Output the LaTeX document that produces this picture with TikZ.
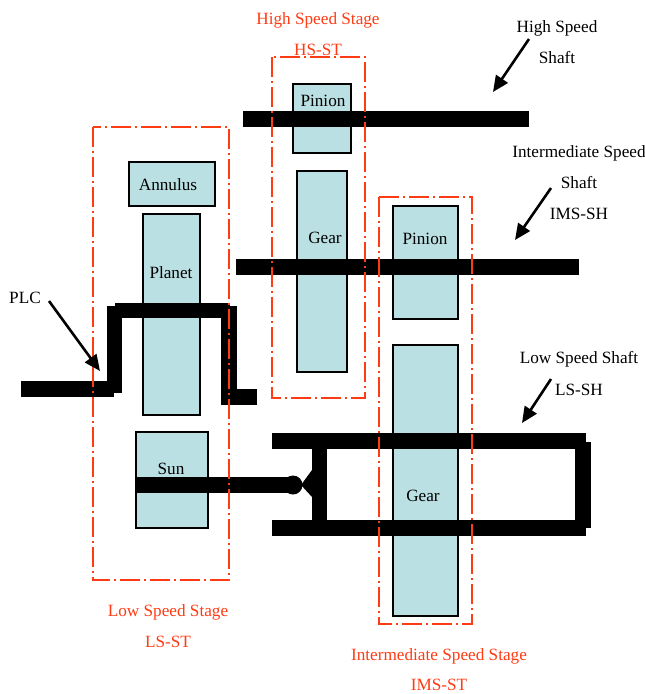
\documentclass[tikz,border=0pt]{standalone}
\usepackage{fontspec}
\setmainfont{Liberation Serif}
\definecolor{gearfill}{HTML}{BBE0E3}
\definecolor{stagered}{HTML}{FF3B14}
\usetikzlibrary{arrows.meta}
\tikzset{
  x=1pt,y=-1pt,
  gearbox/.style={draw=black,line width=1.3pt,fill=gearfill},
  shaftbar/.style={fill=black,draw=none},
  stagebox/.style={draw=stagered,line width=2.2pt,dash pattern=on 20pt off 4pt on 2pt off 4pt},
  lbl/.style={font=\fontsize{17.2}{20}\selectfont,text=black,inner sep=0pt,text height=15pt,text depth=4pt},
  redlbl/.style={lbl,text=stagered},
  pointer/.style={draw=black,line width=2.6pt,-{Triangle[length=16pt,width=14pt]},shorten >=0pt}
}
\begin{document}
\begin{tikzpicture}
\useasboundingbox (0,0) rectangle (645,694);
% gears
\draw[gearbox] (129,162) rectangle (215,206);
\draw[gearbox] (143,214) rectangle (200,415);
\draw[gearbox] (136,432) rectangle (208,528);
\draw[gearbox] (293,84) rectangle (351,153);
\draw[gearbox] (297,171) rectangle (347,372);
\draw[gearbox] (393,206) rectangle (458,319);
\draw[gearbox] (393,345) rectangle (458,616);
% gear labels
\node[lbl] (annulus) at (168,185) {Annulus};
\node[lbl] (planet) at (171,273) {Planet};
\node[lbl] (sun) at (171,469) {Sun};
\node[lbl] (pinionhs) at (323,101) {Pinion};
\node[lbl] (gearhs) at (325,238) {Gear};
\node[lbl] (pinionims) at (425,239) {Pinion};
\node[lbl] (gearims) at (423,496) {Gear};
% shafts
\fill[shaftbar] (243,111) rectangle (529,127);
\fill[shaftbar] (236,259) rectangle (579,275);
% planet carrier
\fill[shaftbar] (21,381) rectangle (114,397);
\fill[shaftbar] (107,306) rectangle (122,393);
\fill[shaftbar] (115,303) rectangle (230,318);
\fill[shaftbar] (221,306) rectangle (237,402);
\fill[shaftbar] (221,389) rectangle (257,405);
% sun shaft and coupling
\fill[shaftbar] (136,477) rectangle (293,493);
\fill[shaftbar] (293,485) circle (9.5);
\fill[shaftbar] (301,485) -- (312,470) -- (312,497) -- cycle;
\fill[shaftbar] (312,433) rectangle (327,536);
% low speed shaft
\fill[shaftbar] (272,433) rectangle (586,449);
\fill[shaftbar] (272,520) rectangle (586,536);
\fill[shaftbar] (575,442) rectangle (591,528);
% stage frames
\draw[stagebox] (93,127) rectangle (229,580);
\draw[stagebox] (272,57) rectangle (365,398);
\draw[stagebox] (379,197) rectangle (472,624);
% text labels
\node[redlbl] (hst) at (318,19) {High Speed Stage};
\node[redlbl] (hsst) at (318,50) {HS-ST};
\node[redlbl] (lst) at (168,611) {Low Speed Stage};
\node[redlbl] (lsst) at (168,642) {LS-ST};
\node[redlbl] (ist) at (439,655) {Intermediate Speed Stage};
\node[redlbl] (imsst) at (439,685) {IMS-ST};
\node[lbl] (hss1) at (557,27) {High Speed};
\node[lbl] (hss2) at (557,58) {Shaft};
\node[lbl] (iss1) at (579,152) {Intermediate Speed};
\node[lbl] (iss2) at (579,183) {Shaft};
\node[lbl] (iss3) at (579,214) {IMS-SH};
\node[lbl] (lss1) at (579,358) {Low Speed Shaft};
\node[lbl] (lss2) at (579,390) {LS-SH};
\node[lbl] (plc) at (25,298) {PLC};
% arrows
\coordinate (plcs) at (49,301);
\coordinate (plct) at (100,371);
\coordinate (hss) at (529,39);
\coordinate (hst2) at (493,92);
\coordinate (imss) at (551,188);
\coordinate (imst) at (515,240);
\coordinate (lsss) at (551,379);
\coordinate (lsst2) at (522,423);
\draw[pointer] (plcs) -- (plct);
\draw[pointer] (hss) -- (hst2);
\draw[pointer] (imss) -- (imst);
\draw[pointer] (lsss) -- (lsst2);
\end{tikzpicture}
\end{document}
